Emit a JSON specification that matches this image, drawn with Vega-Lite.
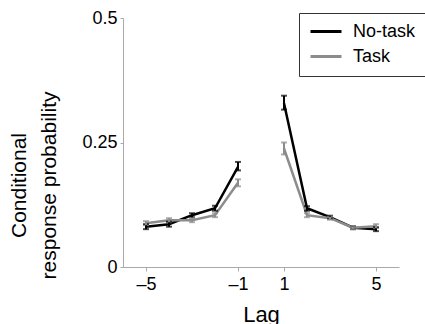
{
  "$schema": "https://vega.github.io/schema/vega-lite/v6.json",
  "autosize": "none",
  "width": 276,
  "height": 249,
  "padding": {"left": 123, "top": 18, "right": 26, "bottom": 57},
  "background": "white",
  "config": {
    "view": {"stroke": null},
    "font": "Liberation Sans",
    "axis": {"grid": false, "domainColor": "#aaaaaa", "tickColor": "#aaaaaa", "labelColor": "#000000", "titleColor": "#000000", "titleFontWeight": "normal", "labelFont": "Liberation Sans", "titleFont": "Liberation Sans"}
  },
  "data": {
    "values": [
      {"lag": -5, "cond": "No-task", "side": "neg", "p": 0.081, "lo": 0.076, "hi": 0.086},
      {"lag": -4, "cond": "No-task", "side": "neg", "p": 0.086, "lo": 0.081, "hi": 0.091},
      {"lag": -3, "cond": "No-task", "side": "neg", "p": 0.104, "lo": 0.100, "hi": 0.108},
      {"lag": -2, "cond": "No-task", "side": "neg", "p": 0.118, "lo": 0.113, "hi": 0.123},
      {"lag": -1, "cond": "No-task", "side": "neg", "p": 0.201, "lo": 0.194, "hi": 0.211},
      {"lag": 1, "cond": "No-task", "side": "pos", "p": 0.329, "lo": 0.316, "hi": 0.344},
      {"lag": 2, "cond": "No-task", "side": "pos", "p": 0.118, "lo": 0.113, "hi": 0.122},
      {"lag": 3, "cond": "No-task", "side": "pos", "p": 0.100, "lo": 0.097, "hi": 0.103},
      {"lag": 4, "cond": "No-task", "side": "pos", "p": 0.079, "lo": 0.076, "hi": 0.082},
      {"lag": 5, "cond": "No-task", "side": "pos", "p": 0.076, "lo": 0.072, "hi": 0.080},
      {"lag": -5, "cond": "Task", "side": "neg", "p": 0.088, "lo": 0.084, "hi": 0.092},
      {"lag": -4, "cond": "Task", "side": "neg", "p": 0.094, "lo": 0.090, "hi": 0.098},
      {"lag": -3, "cond": "Task", "side": "neg", "p": 0.094, "lo": 0.090, "hi": 0.098},
      {"lag": -2, "cond": "Task", "side": "neg", "p": 0.104, "lo": 0.100, "hi": 0.108},
      {"lag": -1, "cond": "Task", "side": "neg", "p": 0.169, "lo": 0.162, "hi": 0.176},
      {"lag": 1, "cond": "Task", "side": "pos", "p": 0.238, "lo": 0.226, "hi": 0.250},
      {"lag": 2, "cond": "Task", "side": "pos", "p": 0.104, "lo": 0.100, "hi": 0.108},
      {"lag": 3, "cond": "Task", "side": "pos", "p": 0.098, "lo": 0.095, "hi": 0.101},
      {"lag": 4, "cond": "Task", "side": "pos", "p": 0.079, "lo": 0.076, "hi": 0.082},
      {"lag": 5, "cond": "Task", "side": "pos", "p": 0.082, "lo": 0.078, "hi": 0.086}
    ]
  },
  "encoding": {
    "x": {
      "field": "lag", "type": "quantitative",
      "scale": {"domain": [-6, 6], "nice": false, "zero": false},
      "axis": {"values": [-5, -1, 1, 5], "labelExpr": "datum.value < 0 ? '\u2013' + abs(datum.value) : datum.label", "labelFontSize": 18, "labelPadding": 4, "tickSize": 4, "title": "Lag", "titleFontSize": 22, "titlePadding": 11}
    },
    "color": {
      "field": "cond", "type": "nominal",
      "scale": {"domain": ["No-task", "Task"], "range": ["#000000", "#8c8c8c"]},
      "legend": {
        "title": null, "orient": "none", "legendX": 176, "legendY": -5,
        "symbolType": "stroke", "symbolSize": 960, "symbolStrokeWidth": 3, "symbolOpacity": 1,
        "labelFontSize": 18, "labelOffset": 10, "padding": 10, "rowPadding": 6, "clipHeight": 17,
        "strokeColor": "#333333", "fillColor": "white"
      }
    }
  },
  "layer": [
    {
      "mark": {"type": "line", "strokeWidth": 2.5},
      "encoding": {
        "y": {
          "field": "p", "type": "quantitative",
          "title": ["Conditional", "response probability"],
          "scale": {"domain": [0, 0.5], "nice": false},
          "axis": {"values": [0, 0.25, 0.5], "labelExpr": "datum.value == 0 ? '0' : datum.value == 0.5 ? '0.5' : '0.25'", "labelFontSize": 18, "tickSize": 3, "labelPadding": 3, "titleFontSize": 21, "titlePadding": 22, "titleY": 167, "titleLineHeight": 30}
        },
        "detail": {"field": "side"}
      }
    },
    {
      "mark": {"type": "errorbar", "ticks": {"size": 6}, "thickness": 2},
      "encoding": {
        "y": {"field": "lo", "type": "quantitative", "title": ["Conditional", "response probability"]},
        "y2": {"field": "hi"}
      }
    }
  ]
}
